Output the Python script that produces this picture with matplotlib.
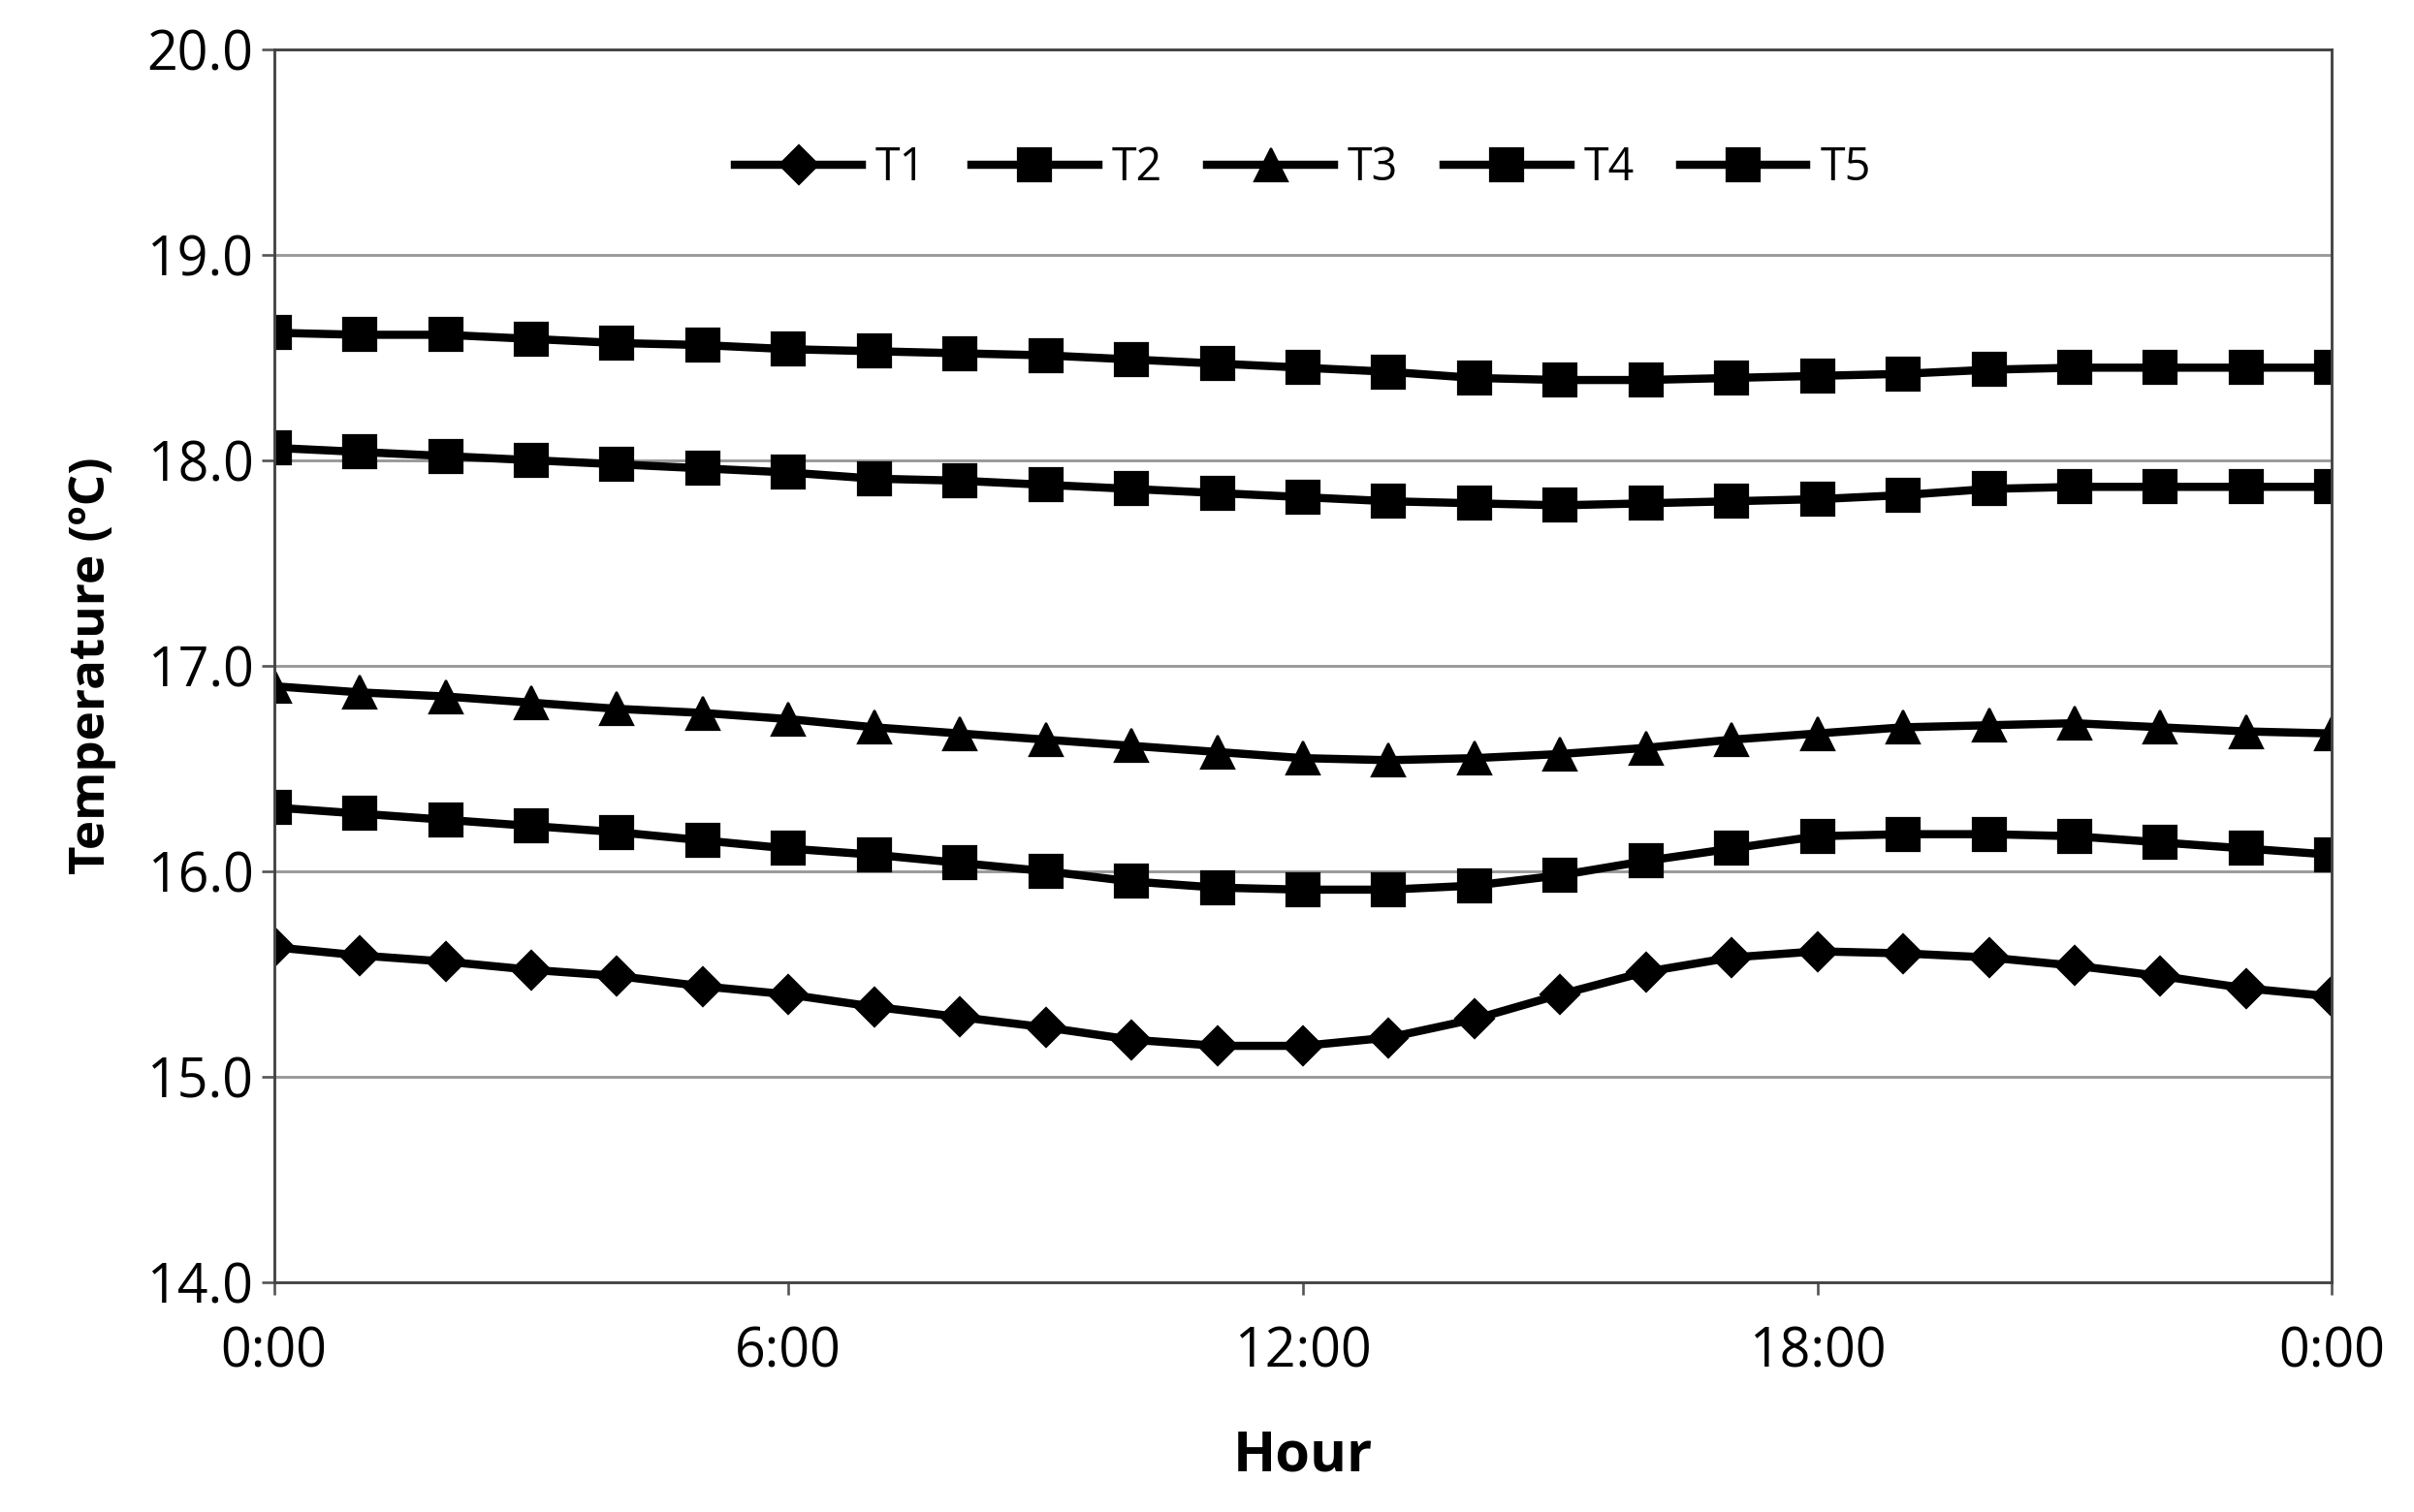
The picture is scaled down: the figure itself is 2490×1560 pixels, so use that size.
import numpy as np
import matplotlib.pyplot as plt

hours = np.arange(25)
t1 = [15.63, 15.59, 15.56, 15.52, 15.49, 15.44, 15.40, 15.34, 15.29, 15.24, 15.18, 15.15, 15.15,
      15.19, 15.28, 15.40, 15.51, 15.58, 15.61, 15.60, 15.58, 15.54, 15.49, 15.43, 15.39]
t2 = [16.31, 16.28, 16.25, 16.22, 16.19, 16.15, 16.11, 16.08, 16.04, 16.00, 15.95, 15.92, 15.91,
      15.91, 15.93, 15.98, 16.05, 16.11, 16.17, 16.18, 16.18, 16.17, 16.14, 16.11, 16.08]
t3 = [16.90, 16.87, 16.85, 16.82, 16.79, 16.77, 16.74, 16.70, 16.67, 16.64, 16.61, 16.58, 16.55,
      16.54, 16.55, 16.57, 16.60, 16.64, 16.67, 16.70, 16.71, 16.72, 16.70, 16.68, 16.67]
t4 = [18.06, 18.04, 18.02, 18.00, 17.98, 17.96, 17.94, 17.91, 17.90, 17.88, 17.86, 17.84, 17.82,
      17.80, 17.79, 17.78, 17.79, 17.80, 17.81, 17.83, 17.86, 17.87, 17.87, 17.87, 17.87]
t5 = [18.62, 18.61, 18.61, 18.59, 18.57, 18.56, 18.54, 18.53, 18.52, 18.51, 18.49, 18.47, 18.45,
      18.43, 18.40, 18.39, 18.39, 18.40, 18.41, 18.42, 18.44, 18.45, 18.45, 18.45, 18.45]
series = [("T1", t1, "D"), ("T2", t2, "s"), ("T3", t3, "^"), ("T4", t4, "s"), ("T5", t5, "s")]
xticks = [0, 6, 12, 18, 24]
xlabels = ["0:00", "6:00", "12:00", "18:00", "0:00"]

plt.rcParams['font.family'] = ['Open Sans', 'DejaVu Sans']
fig = plt.figure(figsize=(15.5625, 9.75), dpi=160)
ax = fig.add_axes([0.1135, 0.152, 0.8525, 0.8155])

for name, vals, m in series:
    ms = 13 if m == "D" else 15
    ax.plot(hours, vals, color='black', lw=3.8, marker=m, markersize=ms, label=name)

ax.set_xlim(0, 24)
ax.set_ylim(14, 20)
ax.set_yticks(np.arange(14, 20.1, 1))
ax.set_yticklabels([f"{v:.1f}" for v in np.arange(14, 20.1, 1)])
ax.set_xticks(xticks)
ax.set_xticklabels(xlabels)
ax.tick_params(labelsize=25, length=6, width=1.2, color='#555555')
ax.tick_params(axis='x', pad=14)
ax.grid(axis='y', color='#999999', lw=1.3)
ax.set_axisbelow(True)
for s in ax.spines.values():
    s.set_color('#444444')
    s.set_linewidth(1.3)

ax.set_xlabel("Hour", fontsize=26, fontweight='bold', labelpad=22)
ax.set_ylabel("Temperature (ºC)", fontsize=23, fontweight='bold', labelpad=14)
ax.legend(loc='upper center', bbox_to_anchor=(0.5, 0.955), ncol=5, frameon=False,
          fontsize=21, handlelength=2.8, columnspacing=1.0, handletextpad=0.3)

fig.savefig("out.png", dpi=160)
